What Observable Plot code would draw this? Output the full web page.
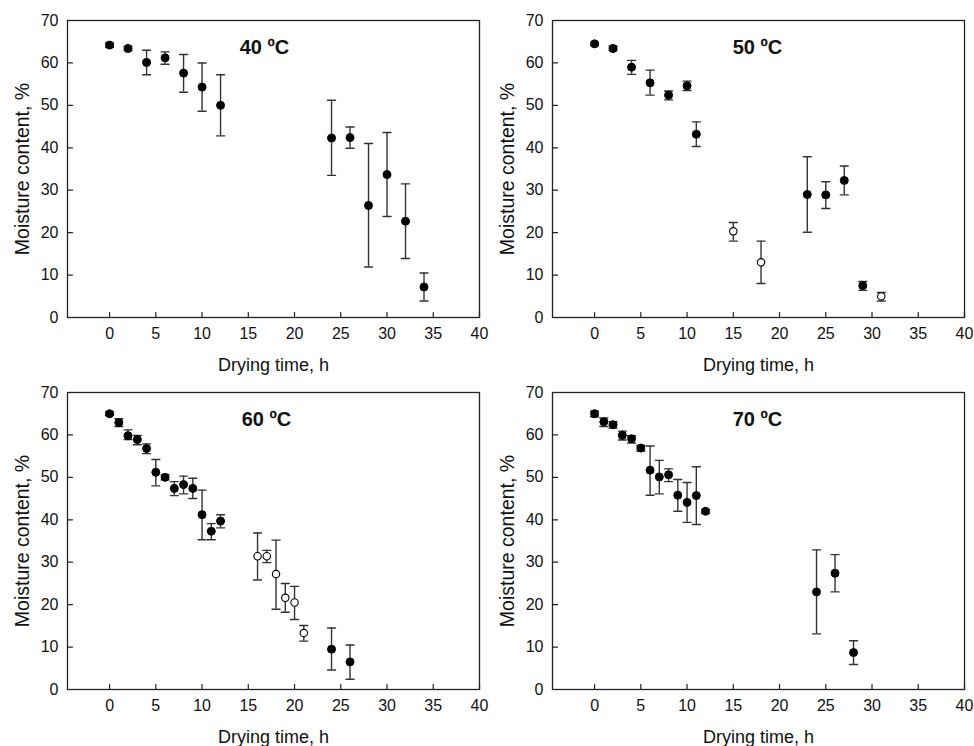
<!DOCTYPE html>
<html>
<head>
<meta charset="utf-8">
<script src="https://cdn.jsdelivr.net/npm/d3@7"></script>
<script src="https://cdn.jsdelivr.net/npm/@observablehq/plot@0.6"></script>
<style>
  html, body { margin: 0; padding: 0; background: #fff; }
  #wrap { position: relative; width: 974px; height: 746px; overflow: hidden; font-family: "Liberation Sans", Arial, sans-serif; }
  .panel { position: absolute; }
  .panel svg { overflow: visible; background: transparent; }
</style>
</head>
<body>
<div id="wrap"></div>
<script>
// Axis ticks
const xTicks = [0, 5, 10, 15, 20, 25, 30, 35, 40];
const yTicks = [0, 10, 20, 30, 40, 50, 60, 70];

// 40 ºC
const t40  = [0, 2, 4, 6, 8, 10, 12, 24, 26, 28, 30, 32, 34];
const m40  = [64.2, 63.4, 60.1, 61.2, 57.6, 54.3, 50.0, 42.3, 42.4, 26.4, 33.7, 22.7, 7.2];
const hi40 = [64.7, 63.9, 63.0, 62.6, 62.0, 60.0, 57.2, 51.2, 44.9, 41.0, 43.6, 31.5, 10.5];
const lo40 = [63.7, 62.9, 57.2, 59.7, 53.1, 48.6, 42.8, 33.5, 39.9, 11.9, 23.8, 13.9, 3.9];
const open40 = [];

// 50 ºC
const t50  = [0, 2, 4, 6, 8, 10, 11, 15, 18, 23, 25, 27, 29, 31];
const m50  = [64.5, 63.4, 59.0, 55.3, 52.4, 54.6, 43.2, 20.3, 13.0, 29.0, 28.9, 32.3, 7.5, 5.0];
const hi50 = [64.9, 64.0, 60.6, 58.3, 53.4, 55.7, 46.1, 22.4, 18.0, 37.9, 32.0, 35.7, 8.5, 5.9];
const lo50 = [64.1, 62.9, 57.3, 52.4, 51.3, 53.5, 40.3, 18.0, 8.0, 20.1, 25.7, 28.9, 6.4, 3.9];
const open50 = [15, 18, 31];

// 60 ºC
const t60  = [0, 1, 2, 3, 4, 5, 6, 7, 8, 9, 10, 11, 12, 16, 17, 18, 19, 20, 21, 24, 26];
const m60  = [65.0, 62.9, 59.8, 58.9, 56.8, 51.2, 50.0, 47.4, 48.3, 47.4, 41.2, 37.3, 39.7, 31.4, 31.4, 27.2, 21.6, 20.5, 13.3, 9.5, 6.5];
const hi60 = [65.4, 63.8, 61.2, 59.9, 57.9, 54.2, 50.6, 49.0, 50.3, 49.8, 47.0, 39.1, 41.2, 36.9, 32.8, 35.2, 25.0, 24.3, 15.1, 14.5, 10.5];
const lo60 = [64.6, 62.0, 58.9, 57.7, 55.6, 48.0, 49.4, 45.7, 46.1, 45.0, 35.3, 35.3, 38.1, 25.8, 29.9, 18.9, 18.2, 16.5, 11.4, 4.6, 2.4];
const open60 = [16, 17, 18, 19, 20, 21];

// 70 ºC
const t70  = [0, 1, 2, 3, 4, 5, 6, 7, 8, 9, 10, 11, 12, 24, 26, 28];
const m70  = [65.0, 63.1, 62.4, 59.9, 59.1, 56.9, 51.7, 50.1, 50.6, 45.8, 44.1, 45.7, 42.0, 23.0, 27.4, 8.7];
const hi70 = [65.6, 64.0, 63.1, 60.9, 59.8, 57.5, 57.4, 54.0, 52.0, 49.5, 48.8, 52.5, 42.4, 32.9, 31.8, 11.5];
const lo70 = [64.3, 62.0, 61.6, 58.8, 58.1, 56.2, 45.8, 46.1, 49.0, 42.0, 39.4, 38.9, 41.5, 13.1, 23.0, 5.9];
const open70 = [];

const titles = ["40 ºC", "50 ºC", "60 ºC", "70 ºC"];
const xLabel = "Drying time, h";
const yLabel = "Moisture content, %";

function rows(t, m, lo, hi, open) {
  return t.map((d, i) => ({t: d, m: m[i], lo: lo[i], hi: hi[i], open: open.includes(d)}));
}

const sets = [
  rows(t40, m40, lo40, hi40, open40),
  rows(t50, m50, lo50, hi50, open50),
  rows(t60, m60, lo60, hi60, open60),
  rows(t70, m70, lo70, hi70, open70)
];

const tickUp = {draw(c, l) { c.moveTo(0, 0); c.lineTo(0, -l); }};
const capShape = {draw(c, l) { c.moveTo(-l / 2, 0); c.lineTo(l / 2, 0); }};

const layout = [
  {left: 0,   top: 0,   width: 487, height: 373, mr: 8,  mb: 56, tdx: -9},
  {left: 485, top: 0,   width: 489, height: 373, mr: 10, mb: 56, tdx: -1},
  {left: 0,   top: 372, width: 487, height: 374, mr: 8,  mb: 57, tdx: -7},
  {left: 485, top: 372, width: 489, height: 374, mr: 10, mb: 57, tdx: -1}
];

const wrap = document.getElementById("wrap");
sets.forEach((data, k) => {
  const L = layout[k];
  const barColor = "#333";
  const chart = Plot.plot({
    width: L.width,
    height: L.height,
    marginLeft: 67,
    marginRight: L.mr,
    marginTop: 20,
    marginBottom: L.mb,
    style: {fontFamily: "'Liberation Sans', Arial, sans-serif", background: "transparent", overflow: "visible"},
    x: {domain: [-4.55, 40], axis: null},
    y: {domain: [0, 70], axis: null},
    marks: [
      // tick labels
      Plot.axisX({ticks: xTicks, tickSize: 0, tickPadding: 10, fontSize: 16, label: null, tickFormat: d => String(d), fill: "#111"}),
      Plot.axisY({ticks: yTicks, tickSize: 0, tickPadding: 9, fontSize: 16, label: null, tickFormat: d => String(d), fill: "#111"}),
      // inward ticks
      Plot.vector(xTicks, {x: d => d, frameAnchor: "bottom", length: 5, rotate: 0, anchor: "start", shape: tickUp, stroke: "#222", strokeWidth: 1.2}),
      Plot.vector(yTicks, {y: d => d, frameAnchor: "left", length: 5, rotate: 90, anchor: "start", shape: tickUp, stroke: "#222", strokeWidth: 1.2}),
      // error bars
      Plot.ruleX(data, {x: "t", y1: "lo", y2: "hi", stroke: barColor, strokeWidth: 1.4}),
      Plot.vector(data, {x: "t", y: "hi", length: 8, rotate: 0, anchor: "start", shape: capShape, stroke: barColor, strokeWidth: 1.4}),
      Plot.vector(data, {x: "t", y: "lo", length: 8, rotate: 0, anchor: "start", shape: capShape, stroke: barColor, strokeWidth: 1.4}),
      // points
      Plot.dot(data.filter(d => !d.open), {x: "t", y: "m", r: 4, fill: "black", stroke: "black", strokeWidth: 1}),
      Plot.dot(data.filter(d => d.open), {x: "t", y: "m", r: 3.7, fill: "white", stroke: "black", strokeWidth: 1.1}),
      // frame
      Plot.frame({stroke: "#222", strokeWidth: 1.3}),
      // panel title
      Plot.text([titles[k]], {frameAnchor: "top", dy: 27, dx: L.tdx, fontSize: 20, fontWeight: "bold", fill: "#111", lineAnchor: "middle"}),
      // axis labels
      Plot.text([xLabel], {frameAnchor: "bottom", dy: 48, fontSize: 18, fill: "#111", lineAnchor: "middle", textAnchor: "middle"}),
      Plot.text([yLabel], {frameAnchor: "left", dx: -45, rotate: -90, fontSize: 19.5, fill: "#111", lineAnchor: "middle", textAnchor: "middle"})
    ]
  });
  const div = document.createElement("div");
  div.className = "panel";
  div.style.left = L.left + "px";
  div.style.top = L.top + "px";
  div.appendChild(chart);
  wrap.appendChild(div);
});
</script>
</body>
</html>
